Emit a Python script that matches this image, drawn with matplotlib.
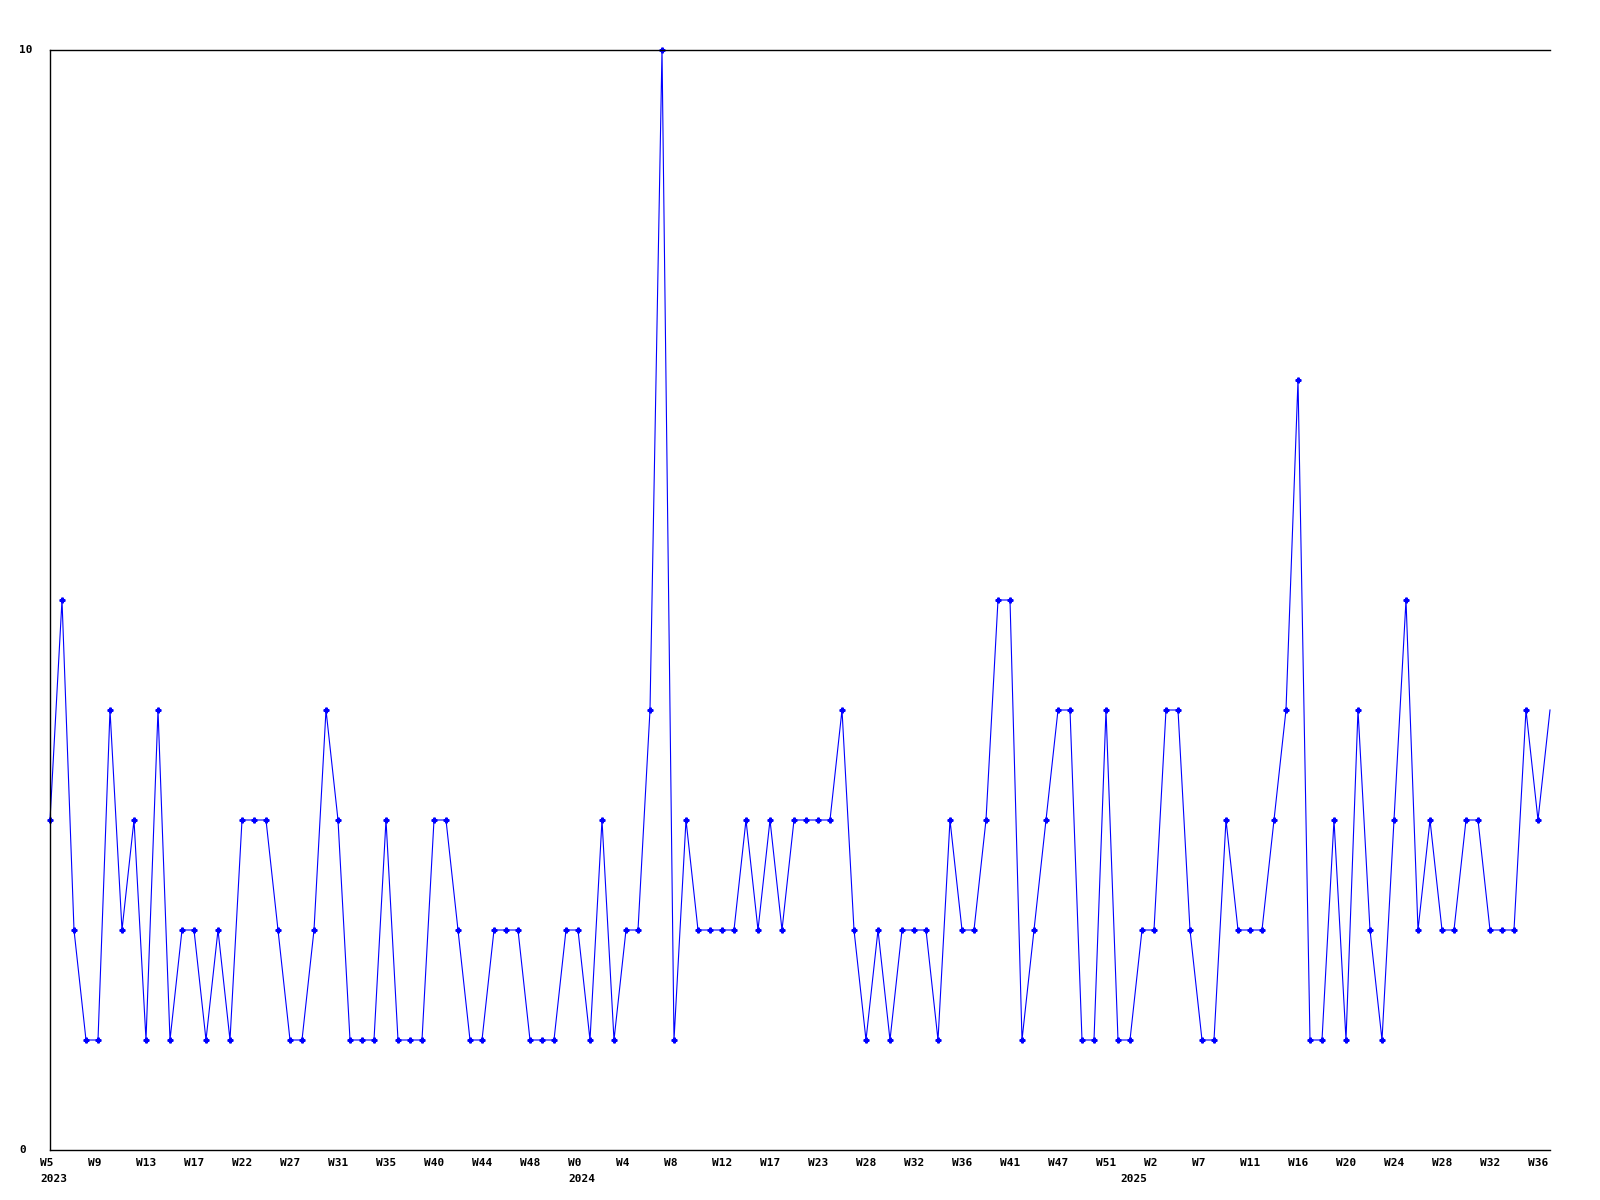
import matplotlib
matplotlib.use("Agg")
import matplotlib.pyplot as plt
from matplotlib import transforms

# weekly counts, one per point (126 points)
counts = [3, 5, 2, 1, 1, 4, 2, 3, 1, 4, 1, 2, 2, 1, 2, 1, 3, 3, 3, 2,
          1, 1, 2, 4, 3, 1, 1, 1, 3, 1, 1, 1, 3, 3, 2, 1, 1, 2, 2, 2,
          1, 1, 1, 2, 2, 1, 3, 1, 2, 2, 4, 10, 1, 3, 2, 2, 2, 2, 3, 2,
          3, 2, 3, 3, 3, 3, 4, 2, 1, 2, 1, 2, 2, 2, 1, 3, 2, 2, 3, 5,
          5, 1, 2, 3, 4, 4, 1, 1, 4, 1, 1, 2, 2, 4, 4, 2, 1, 1, 3, 2,
          2, 2, 3, 4, 7, 1, 1, 3, 1, 4, 2, 1, 3, 5, 2, 3, 2, 2, 3, 3,
          2, 2, 2, 4, 3, 4]

# tick labels every 4th point
week_labels = ["W5", "W9", "W13", "W17", "W22", "W27", "W31", "W35", "W40", "W44", "W48",
               "W0", "W4", "W8", "W12", "W17", "W23", "W28", "W32", "W36", "W41", "W47",
               "W51", "W2", "W7", "W11", "W16", "W20", "W24", "W28", "W32", "W36"]
years = ["2023", "2024", "2025"]
year_pos = [0, 44, 90]
y_labels = ["0", "10"]

mono = "DejaVu Sans Mono"

fig = plt.figure(figsize=(16, 12), dpi=100)
ax = fig.add_axes([50/1600, 50/1200, 1500/1600, 1100/1200])

x = list(range(len(counts)))
ax.plot(x, counts, color="#0000ff", lw=0.8, marker="P", ms=3.5,
        markevery=list(range(len(counts) - 1)), clip_on=False)

ax.set_xlim(0, len(counts) - 1)
ax.set_ylim(0, 10)
ax.spines["right"].set_visible(False)
for s in ["left", "top", "bottom"]:
    ax.spines[s].set_linewidth(1.0)
    ax.spines[s].set_color("black")

ax.set_yticks([])
ax.set_xticks([])

# x labels, left aligned a bit before each point
shift = transforms.ScaledTranslation(-10/100, 0, fig.dpi_scale_trans)
xtr = transforms.blended_transform_factory(ax.transData, fig.transFigure) + shift
for i, lab in enumerate(week_labels):
    fig.text(i * 4, 1 - 1163/1200, lab, transform=xtr, ha="left", va="center",
             fontsize=8, fontweight="bold", family=mono)
for p, yr in zip(year_pos, years):
    fig.text(p, 1 - 1179/1200, yr, transform=xtr, ha="left", va="center",
             fontsize=8, fontweight="bold", family=mono)

ytr = transforms.blended_transform_factory(fig.transFigure, ax.transData)
for v, lab in zip([0, 10], y_labels):
    fig.text(19/1600, v, lab, transform=ytr, ha="left", va="center",
             fontsize=8, fontweight="bold", family=mono)

fig.savefig("out.png", dpi=100, facecolor="white")
